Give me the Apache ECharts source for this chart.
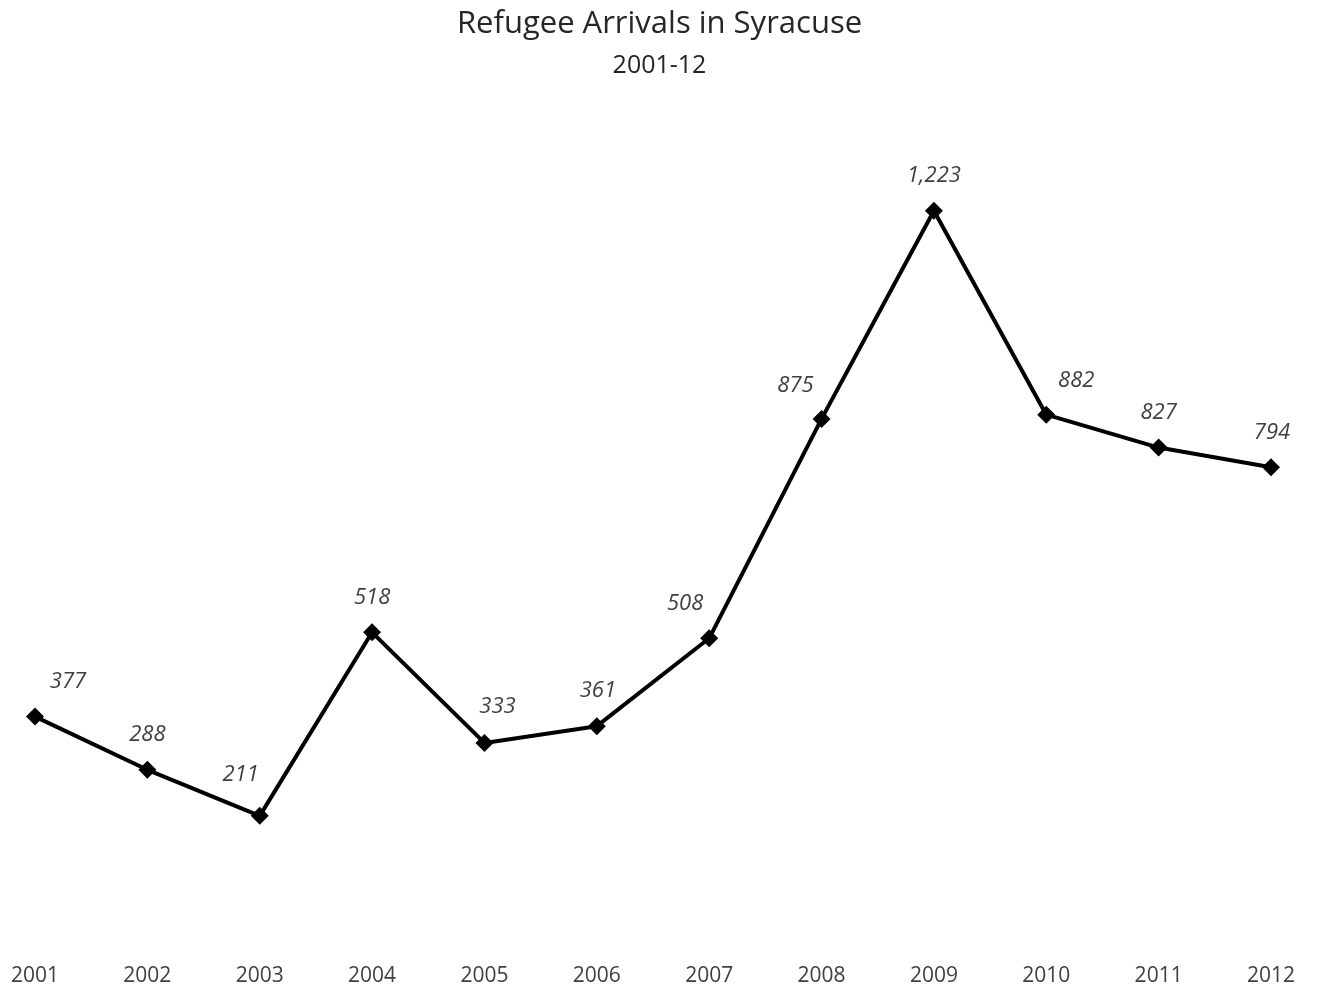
<!DOCTYPE html>
<html>
<head>
<meta charset="utf-8">
<script src="https://cdn.jsdelivr.net/npm/echarts@6/dist/echarts.min.js"></script>
<style>html,body{margin:0;padding:0;background:#fff;}#c{width:1319px;height:992px;}</style>
</head>
<body>
<div id="c"></div>
<script>
const years = ['2001','2002','2003','2004','2005','2006','2007','2008','2009','2010','2011','2012'];
const arrivals = [377, 288, 211, 518, 333, 361, 508, 875, 1223, 882, 827, 794];
const labelOffsets = [[33,0],[0,0],[-19,-6],[0,0],[13,-1],[1,0],[-24,0],[-26,2],[0,0],[30,1],[0,0],[1,0]];

const chart = echarts.init(document.getElementById('c'));
chart.setOption({
  backgroundColor: '#ffffff',
  animation: false,
  title: {
    text: 'Refugee Arrivals in Syracuse',
    subtext: '2001-12',
    left: 'center',
    top: 4,
    itemGap: 13,
    textStyle: { fontFamily: 'Open Sans', fontSize: 31, fontWeight: 'normal', color: '#262626' },
    subtextStyle: { fontFamily: 'Open Sans', fontSize: 25, color: '#262626' }
  },
  grid: { left: 35, right: 48, top: 105, bottom: 50, containLabel: false },
  xAxis: {
    type: 'category',
    data: years,
    boundaryGap: false,
    axisLine: { show: false },
    axisTick: { show: false },
    axisLabel: { margin: 24, fontFamily: 'Open Sans', fontSize: 21, color: '#404040' },
    splitLine: { show: false }
  },
  yAxis: {
    type: 'value',
    min: 0,
    max: 1400,
    interval: 200,
    show: false,
    splitLine: { show: false }
  },
  series: [{
    type: 'line',
    data: arrivals.map((v, i) => ({
      value: v,
      label: { offset: labelOffsets[i] }
    })),
    symbol: 'diamond',
    symbolSize: 18,
    lineStyle: { color: '#000000', width: 4 },
    itemStyle: { color: '#000000' },
    label: {
      show: true,
      position: 'top',
      distance: 15,
      fontFamily: 'Open Sans',
      fontStyle: 'italic',
      fontSize: 22,
      color: '#404040',
      formatter: p => p.value.toLocaleString('en-US')
    }
  }]
});
</script>
</body>
</html>
